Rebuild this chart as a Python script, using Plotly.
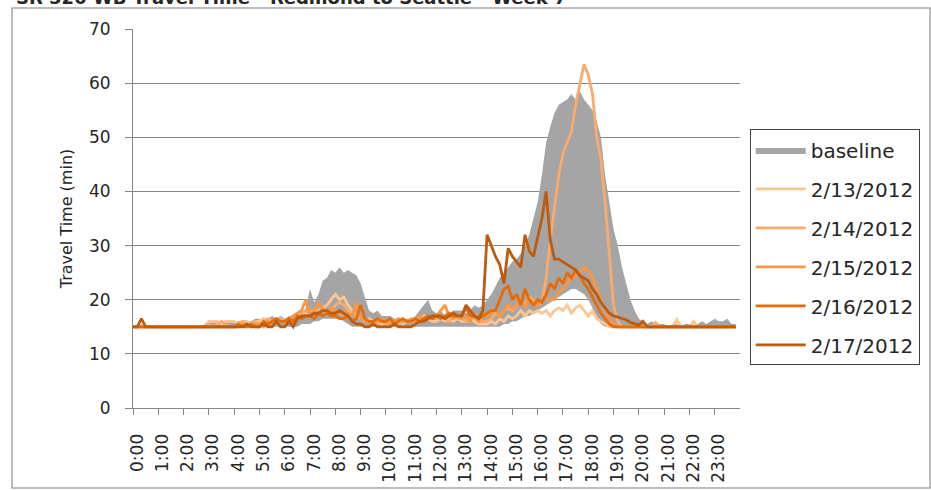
import plotly.graph_objects as go

# ---------------- data (10-minute samples, one row per hour) ----------------
hour_labels = [f"{h}:00" for h in range(24)]
times = [h + m / 60 for h in range(24) for m in range(0, 60, 10)]

baseline_upper = [
    15, 15, 15.5, 15, 15, 15,
    15, 15, 15, 15, 15, 15,
    15, 15, 15, 15, 15, 15.5,
    16, 16, 16, 16, 16, 16,
    16, 16, 16, 16, 16, 16.5,
    16.5, 16, 16.5, 17, 16.5, 17,
    16.5, 17, 17, 17, 17.5, 18.5,
    22, 19.5, 21, 23.5, 24, 25.5,
    25, 26, 25, 25.5, 25, 24.5,
    23, 20.5, 18, 17.5, 18, 17,
    17, 17, 16.5, 16.5, 16, 16.5,
    16.5, 17, 18, 19, 20, 18,
    17.5, 18, 17, 17.5, 18, 18,
    18, 17.5, 18, 19, 18.5, 19,
    20, 21, 22.5, 24, 25, 26,
    27, 27.5, 28.5, 30, 32, 35,
    38, 43, 49, 52, 54.5, 56,
    56.5, 57, 58, 57, 58.5, 57,
    56, 55, 53, 50, 43, 38,
    33, 30, 26, 23, 20, 18,
    16.5, 16, 15.5, 16, 15.5, 15.5,
    15.5, 15, 15.5, 15.5, 15, 15.5,
    15.5, 15, 15.5, 16, 15.5, 16,
    16.5, 16, 16, 16.5, 15.5, 15.5,
]

baseline_lower = [
    15, 15, 15, 15, 15, 15,
    15, 15, 15, 15, 15, 15,
    15, 15, 15, 15, 15, 15,
    15, 15, 15, 15, 15, 15,
    15, 15, 15, 15, 15, 15,
    15, 15, 15, 15, 15, 15,
    15, 15, 15, 15, 15.5, 15.5,
    15.5, 16, 16, 16.5, 16.5, 16.5,
    16.5, 16.5, 16, 15.5, 15, 15,
    15, 15, 15, 15, 15, 15,
    15, 15, 15, 15, 15, 15,
    15, 15, 15, 15, 15, 15,
    15, 15, 15, 15, 15, 15,
    15, 15, 15, 15, 15, 15,
    15, 15, 15, 15, 15.5, 15.5,
    16, 16, 16.5, 17, 17, 17.5,
    18, 18.5, 19, 19.5, 20, 20.5,
    21, 21.5, 22, 22, 21.5, 21,
    20, 18.5, 17, 15.5, 15, 15,
    15, 15, 15, 15, 15, 15,
    15, 15, 15, 15, 15, 15,
    15, 15, 15, 15, 15, 15,
    15, 15, 15, 15, 15, 15,
    15, 15, 15, 15, 15, 15,
]

d_0213 = [
    15, 15, 15, 15, 15, 15,
    15, 15, 15, 15, 15, 15,
    15, 15, 15, 15, 15, 15,
    16, 16, 16, 15.5, 16, 16,
    16, 15.5, 16, 16, 15.5, 16,
    16, 16.5, 16, 16, 16.5, 16,
    16, 16.5, 17, 16.5, 17, 17.5,
    17, 18, 18, 18.5, 19, 20,
    21, 20, 20.5, 19, 18, 17,
    16.5, 16, 16.5, 16, 16, 15.5,
    16, 15.5, 16, 16, 15.5, 16,
    16, 16.5, 16, 17, 16.5, 16,
    16, 16.5, 16, 16.5, 16, 16.5,
    16, 16, 16.5, 16, 15.5, 15.5,
    15.5, 16, 15.5, 16.5, 16, 17,
    16.5, 17, 18, 17, 18, 17.5,
    18, 17.5, 18, 17, 18, 18.5,
    18, 19, 17.5, 18.5, 19, 18,
    17, 18, 16.5, 16, 15.5, 15,
    15, 15, 15, 15, 15, 15,
    15, 15, 15, 15, 15, 15,
    15, 15, 15, 16.3, 15, 15,
    15, 16, 15, 15, 15, 15,
    15, 15, 15, 15, 15, 15,
]

d_0214 = [
    15, 15, 15, 15, 15, 15,
    15, 15, 15, 15, 15, 15,
    15, 15, 15, 15, 15, 15,
    15.5, 15, 15.5, 16, 15.5, 15,
    15, 15.5, 16, 15.5, 15.5, 16,
    15.5, 16, 16.5, 16, 16, 16.5,
    16, 16.5, 16, 17, 17.5, 18,
    18, 17.5, 18, 18.5, 18, 18,
    19, 19.5, 19, 18, 17.5, 17,
    16.5, 16, 16, 16, 15.5, 16,
    15.5, 16, 16, 15.5, 16, 16,
    16, 16, 16.5, 16, 16.5, 17,
    16.5, 17, 16.5, 16, 17, 16.5,
    16.5, 16, 16.5, 17, 16, 16,
    16, 16.5, 17.5, 17, 18, 18.5,
    18, 19, 20, 19, 20.5, 20,
    19, 19.5, 24, 31, 37, 43,
    47, 49, 51, 56, 60, 63.5,
    61.5, 58, 50, 46, 38, 29,
    19, 16, 15, 15, 15, 15,
    15, 15, 15, 15, 15.8, 15,
    15, 15, 15, 15, 15, 15,
    15, 15, 15, 15, 15, 15,
    15, 15, 15, 15, 15, 15,
]

d_0215 = [
    15, 15, 15, 15, 15, 15,
    15, 15, 15, 15, 15, 15,
    15, 15, 15, 15, 15, 15,
    15, 15, 15, 15, 15, 15,
    15, 15, 15.5, 15, 15, 15.5,
    15.5, 15, 16, 15.5, 16, 16,
    16, 16.5, 17, 17.5, 18, 20,
    17, 18, 19.5, 18, 17.5, 18.5,
    18, 17.5, 17, 17.5, 17, 19.5,
    16.5, 16, 16, 15.5, 16, 16.5,
    16, 15.5, 16, 16.5, 16, 16,
    16.5, 16, 17, 16.5, 17, 16.5,
    17, 18, 19, 17, 16.5, 17,
    16.5, 17, 16, 17.5, 16, 17,
    17, 17.5, 18, 17, 18, 19,
    18.5, 19, 20, 18.5, 20, 19.5,
    19, 20, 20.5, 20, 20, 21.5,
    22, 23, 24, 24.5, 25, 26,
    25.5, 24, 22, 20, 18, 16.5,
    15.5, 15, 15, 15, 15, 15,
    15, 15, 15, 15, 15, 15,
    15, 15, 15, 15, 15, 15,
    15, 15, 15, 15, 15, 15,
    15, 15, 15, 15, 15, 15,
]

d_0216 = [
    15, 15, 15, 15, 15, 15,
    15, 15, 15, 15, 15, 15,
    15, 15, 15, 15, 15, 15,
    15, 15, 15, 15, 15, 15,
    15, 15.5, 15, 15, 15.5, 15,
    15, 16, 15.5, 16, 16.5, 16,
    16, 16.5, 16, 17, 16.5, 17,
    17, 16.5, 17.5, 17, 17.5, 17,
    17, 16.5, 16.5, 17, 16, 16.5,
    19, 16.5, 16, 16, 16.5, 16,
    16, 16.5, 15.5, 16, 16.5, 16,
    16, 16.5, 16, 16.5, 17, 16.5,
    17, 16.5, 17, 17.5, 17, 17,
    17, 18.5, 17, 17, 16.5, 17,
    17.5, 18, 18, 20, 22, 22.5,
    20, 21, 19, 22, 20, 19,
    20, 19.5, 21, 23, 22, 24,
    23, 25, 24, 25.5, 24.5, 23,
    22, 20.5, 19, 17.5, 16.5, 15.5,
    15, 15, 15, 15, 15, 15,
    15, 15, 15, 15, 15, 15,
    15, 15, 15, 15, 15, 15,
    15, 15, 15, 15, 15, 15,
    15, 15, 15, 15, 15, 15,
]

d_0217 = [
    15, 15, 16.5, 15, 15, 15,
    15, 15, 15, 15, 15, 15,
    15, 15, 15, 15, 15, 15,
    15, 15, 15, 15, 15, 15,
    15, 15, 15, 15.5, 15, 15,
    15, 15.5, 15, 15, 16, 15,
    15, 16, 15, 16.5, 17, 17,
    17, 17.5, 17.5, 18, 18, 17.5,
    17.5, 18, 17.5, 17, 16, 15.5,
    15.5, 15, 15, 15.5, 15, 15,
    15, 15, 15.5, 15, 15, 15,
    15, 15.5, 16, 16, 16.5, 17,
    17, 17, 16.5, 17, 17.5, 17,
    17, 19, 18, 17, 16.5, 18,
    32, 30, 28, 26.5, 23, 29.5,
    28, 27, 26, 32, 29, 28,
    31.5, 35, 40, 31, 27.5, 27.5,
    27, 26.5, 26, 25.5, 24.5, 24,
    23.5, 22, 21, 19.5, 18.5, 17.5,
    17, 16.8, 16.5, 16.3, 15.8, 15.5,
    15.3, 16, 15, 15, 15, 15,
    15, 15, 15, 15, 15, 15,
    15, 15, 15, 15, 15, 15,
    15, 15, 15, 15, 15, 15,
]

series_names = ["2/13/2012", "2/14/2012", "2/15/2012", "2/16/2012", "2/17/2012"]
series_values = [d_0213, d_0214, d_0215, d_0216, d_0217]
series_colors = ["#FBC594", "#F9AA6C", "#F79646", "#E46C0A", "#BD5B0E"]

FONT = "DejaVu Sans"

fig = go.Figure()

fig.add_trace(go.Scatter(
    x=times, y=baseline_lower, mode="lines", line=dict(width=0, color="#A5A5A5"),
    showlegend=False, hoverinfo="skip", legendgroup="g0",
))
fig.add_trace(go.Scatter(
    x=times, y=baseline_upper, mode="lines", name="baseline",
    line=dict(width=0, color="#A5A5A5"), fill="tonexty", fillcolor="#A5A5A5",
    legendgroup="g0",
))
for i, (nm, vals, col) in enumerate(zip(series_names, series_values, series_colors)):
    fig.add_trace(go.Scatter(
        x=times, y=vals, mode="lines", name=nm,
        line=dict(width=2.8, color=col), legendgroup=f"g{i+1}",
    ))

fig.update_layout(
    width=931, height=490,
    margin=dict(l=133, r=191, t=29, b=82, autoexpand=False),
    paper_bgcolor="white", plot_bgcolor="white",
    font=dict(family=FONT, color="#262626"),
    showlegend=True,
    legend=dict(
        x=1.016, xanchor="left", y=0.735, yanchor="top",
        bordercolor="#404040", borderwidth=1,
        font=dict(size=20, family=FONT, color="#262626"),
        tracegroupgap=10, itemwidth=50,
        traceorder="grouped",
    ),
    shapes=[dict(
        type="rect", xref="paper", yref="paper",
        x0=-0.1993, x1=1.313, y0=-0.211, y1=1.0554,
        line=dict(color="#A6A6A6", width=1.5), layer="below",
    )],
    annotations=[dict(
        text="<b>SR 520 WB Travel Time - Redmond to Seattle - Week 7</b>",
        xref="paper", yref="paper", x=-0.196, y=1.050, xanchor="left", yanchor="bottom",
        showarrow=False, font=dict(size=18, family=FONT, color="#262626"),
    )],
)

fig.update_xaxes(
    range=[0, 24], tickmode="array", tickvals=list(range(24)), ticktext=hour_labels,
    tickangle=-90, ticks="outside", ticklen=6, tickcolor="#868686",
    showline=True, linecolor="#868686", linewidth=1, showgrid=False, zeroline=False,
    tickfont=dict(size=17, family=FONT, color="#262626"),
    automargin=False, ticklabelstandoff=12, ticklabelshift=4,
)
fig.update_yaxes(
    range=[0, 70], dtick=10, ticks="outside", ticklen=7, tickcolor="#868686",
    showline=True, linecolor="#868686", linewidth=1,
    showgrid=True, gridcolor="#868686", gridwidth=1, zeroline=False,
    tickfont=dict(size=17, family=FONT, color="#262626"),
    automargin=False, ticklabelstandoff=11,
    title=dict(text="Travel Time (min)", font=dict(size=16, family=FONT, color="#262626"), standoff=12),
)

fig.write_html(
    "out.html",
    config={"displayModeBar": False},
    post_script="document.body.style.margin='0';",
)
